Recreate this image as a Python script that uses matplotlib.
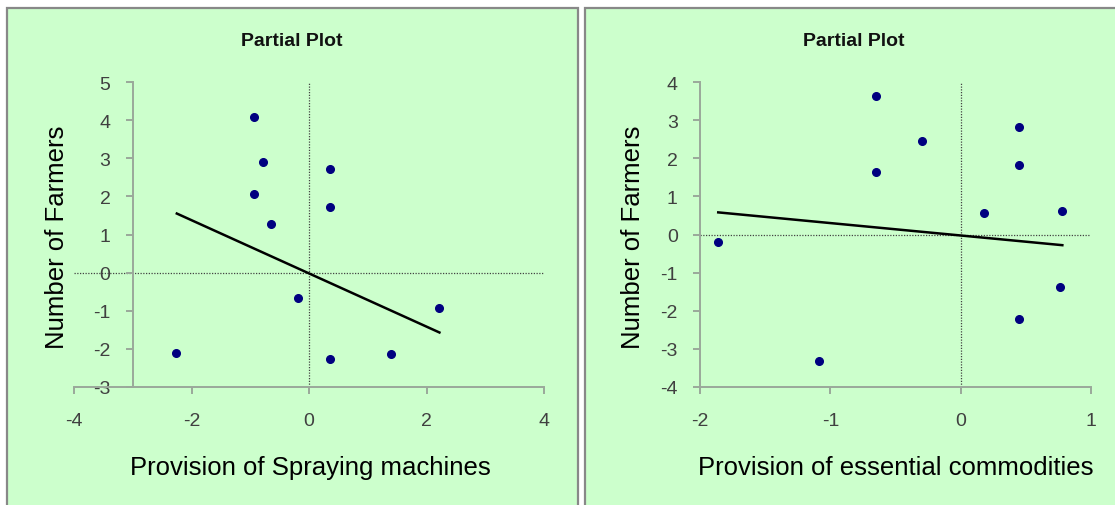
import matplotlib
matplotlib.use("Agg")
import matplotlib.pyplot as plt
from matplotlib.patches import Rectangle

plt.rcParams['font.family'] = ['Liberation Sans', 'DejaVu Sans']
plt.rcParams['axes.unicode_minus'] = False

# left panel: spraying machines
spray_x = [-0.94, -0.78, -0.94, -0.64, 0.35, 0.35, -0.18, 2.22, -2.26, 0.35, 1.39]
spray_y = [4.09, 2.91, 2.07, 1.27, 2.71, 1.73, -0.67, -0.93, -2.10, -2.27, -2.14]
spray_fit_x = [-2.25, 2.22]
spray_fit_y = [1.55, -1.57]
spray_xticks = [-4, -2, 0, 2, 4]
spray_yticks = [-3, -2, -1, 0, 1, 2, 3, 4, 5]

# right panel: essential commodities
comm_x = [-0.65, -0.30, -0.65, 0.45, 0.45, 0.18, 0.78, -1.86, -1.09, 0.76, 0.45]
comm_y = [3.63, 2.46, 1.65, 2.81, 1.82, 0.57, 0.62, -0.19, -3.31, -1.38, -2.22]
comm_fit_x = [-1.86, 0.78]
comm_fit_y = [0.58, -0.28]
comm_xticks = [-2, -1, 0, 1]
comm_yticks = [-4, -3, -2, -1, 0, 1, 2, 3, 4]

W, H = 1115, 506
BG = '#CCFFCC'
SPINE = '#9aa89a'
TICKCOL = '#404040'


def fx(px):
    return px / W


def fy(py):
    return 1 - py / H


fig = plt.figure(figsize=(W / 100, H / 100), dpi=100)
fig.patch.set_facecolor('white')

# chart-area panels
for x0, x1 in [(7, 578), (585, 1125)]:
    fig.patches.append(Rectangle((fx(x0), fy(520)), fx(x1 - x0), (520 - 9) / H,
                                 transform=fig.transFigure, facecolor=BG,
                                 edgecolor='#888888', linewidth=1.6, zorder=-5))


def draw_panel(rect, xs, ys, fit_x, fit_y, xticks, yticks, yspine_at,
               xlabel, title_x, xlabel_x, ylabel_x):
    ax = fig.add_axes(rect)
    ax.set_zorder(2)
    ax.set_facecolor('none')
    ax.set_xlim(xticks[0], xticks[-1])
    ax.set_ylim(yticks[0], yticks[-1])
    ax.set_xticks(xticks)
    ax.set_yticks(yticks)
    for s in ['top', 'right']:
        ax.spines[s].set_visible(False)
    ax.spines['left'].set_position(('data', yspine_at))
    for s in ['left', 'bottom']:
        ax.spines[s].set_color(SPINE)
        ax.spines[s].set_linewidth(1.4)
    ax.tick_params(axis='both', colors=SPINE, labelcolor=TICKCOL,
                   labelsize=14, length=5, width=1.4)
    ax.tick_params(axis='x', pad=13)
    ax.tick_params(axis='y', pad=11)

    ax.axhline(0, color='#444444', linestyle=(0, (1, 1.2)), linewidth=0.9, zorder=1)
    ax.axvline(0, color='#444444', linestyle=(0, (1, 1.2)), linewidth=0.9, zorder=1)

    ax.plot(fit_x, fit_y, color='black', linewidth=1.8, zorder=2)
    ax.plot(xs, ys, linestyle='none', marker='o', markersize=5.5,
            color='#000080', zorder=3)

    fig.text(fx(title_x), fy(41), 'Partial Plot', ha='center', va='center',
             fontsize=14, fontweight='bold', color='#111111')
    fig.text(fx(xlabel_x), fy(468), xlabel, ha='center', va='center',
             fontsize=18.5, color='black')
    fig.text(fx(ylabel_x), fy(237), 'Number of Farmers', ha='center', va='center',
             rotation=90, fontsize=18.5, color='black')
    return ax


draw_panel([fx(74), fy(388), fx(544 - 74), (388 - 83) / H],
           spray_x, spray_y, spray_fit_x, spray_fit_y,
           spray_xticks, spray_yticks, -3,
           'Provision of Spraying machines', 292, 310, 57)

draw_panel([fx(700), fy(388), fx(1091 - 700), (388 - 83) / H],
           comm_x, comm_y, comm_fit_x, comm_fit_y,
           comm_xticks, comm_yticks, -2,
           'Provision of essential commodities', 854, 896, 633)

fig.savefig('out.png', dpi=100, facecolor='white')
